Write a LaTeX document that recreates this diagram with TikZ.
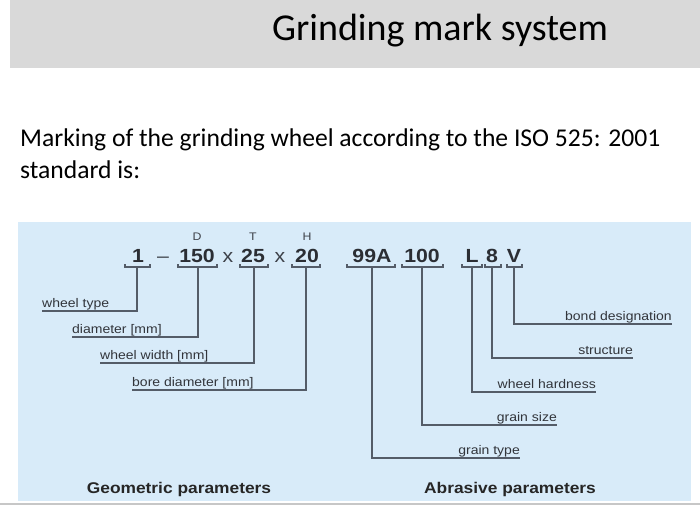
\documentclass[tikz,border=0pt]{standalone}
\usepackage{fontspec}
\setmainfont{Carlito}
\newfontfamily\arialf[FakeStretch=1.12]{Liberation Sans}
\usetikzlibrary{positioning, calc}
\definecolor{hdrgray}{RGB}{217,217,217}
\definecolor{panelblue}{RGB}{216,235,249}
\definecolor{linegray}{RGB}{84,92,104}
\definecolor{txtgray}{RGB}{62,66,74}

\begin{document}
\begin{tikzpicture}[x=1pt, y=-1pt,
    tok/.style={anchor=base, inner sep=0pt, font=\arialf\bfseries\fontsize{19}{22}\selectfont, text=txtgray!70!black},
    opr/.style={anchor=base, inner sep=0pt, font=\arialf\fontsize{19}{22}\selectfont, text=txtgray},
    dim/.style={anchor=base, inner sep=0pt, font=\arialf\fontsize{11}{13}\selectfont, text=txtgray},
    lbl/.style={inner sep=0pt, font=\arialf\fontsize{12.5}{14}\selectfont, text=txtgray!80!black},
    grp/.style={anchor=base, inner sep=0pt, font=\arialf\bfseries\fontsize{15.5}{18}\selectfont, text=black!85},
    brk/.style={line width=1.3pt, color=linegray},
    lead/.style={line width=1.3pt, color=linegray}
]
    \useasboundingbox (0,0) rectangle (700,507);
    \fill[white] (0,0) rectangle (700,507);

    % header
    \fill[hdrgray] (10,0) rectangle (700,68);
    \node[anchor=base, inner sep=0pt, font=\fontsize{38}{44}\selectfont] (title) at (440,40) {Grinding mark system};

    % intro text
    \node[anchor=base west, inner sep=0pt, font=\fontsize{25.6}{30}\selectfont] (intro1) at (20,146)
        {Marking of the grinding wheel according to the ISO 525: 2001};
    \node[anchor=base west, inner sep=0pt, font=\fontsize{25.6}{30}\selectfont] (intro2) at (20,178)
        {standard is:};

    % panel
    \fill[panelblue] (18,222) rectangle (691,501);
    \draw[line width=2pt, black!22] (0,504) -- (700,504);

    % marking
    \node[tok] (t1)   at (138,262) {1};
    \node[opr] (dash) at (163,262) {–};
    \node[tok] (t150) at (197,262) {150};
    \node[opr] (x1)   at (228,262) {x};
    \node[tok] (t25)  at (253,262) {25};
    \node[opr] (x2)   at (280,262) {x};
    \node[tok] (t20)  at (307,262) {20};
    \node[tok] (t99a) at (372,262) {99A};
    \node[tok] (t100) at (422,262) {100};
    \node[tok] (tL)   at (472,262) {L};
    \node[tok] (t8)   at (492,262) {8};
    \node[tok] (tV)   at (514,262) {V};
    \node[dim] (dD) at (197,240) {D};
    \node[dim] (dT) at (253,240) {T};
    \node[dim] (dH) at (307,240) {H};

    % brackets
    \foreach \nm/\xa/\xb/\xm in {a/125/150/137, b/178/217/198, c/240/268/254, d/292/320/306,
                                 e/347/395/372, f/402/443/422, g/462/482/472, h/485/501/492, i/507/522/514} {
        \draw[brk] (\xa,264) -- (\xa,267) -- (\xb,267) -- (\xb,264);
        \coordinate (br-\nm) at (\xm,267);
    }

    % geometric labels
    \node[lbl, anchor=base west] (wtype)  at (42,307)  {wheel type};
    \node[lbl, anchor=base west] (diam)   at (72,333)  {diameter [mm]};
    \node[lbl, anchor=base west] (width)  at (100,359) {wheel width [mm]};
    \node[lbl, anchor=base west] (bore)   at (132,386) {bore diameter [mm]};
    \draw[lead] (br-a) |- ([yshift=-4pt]wtype.base west);
    \draw[lead] (br-b) |- ([yshift=-4pt]diam.base west);
    \draw[lead] (br-c) |- ([yshift=-4pt]width.base west);
    \draw[lead] (br-d) |- ([yshift=-4pt]bore.base west);

    % abrasive labels
    \node[lbl, anchor=base east] (bond)   at (672,320) {bond designation};
    \node[lbl, anchor=base east] (struct) at (633,354) {structure};
    \node[lbl, anchor=base east] (hard)   at (596,388) {wheel hardness};
    \node[lbl, anchor=base east] (gsize)  at (557,421) {grain size};
    \node[lbl, anchor=base east] (gtype)  at (520,454) {grain type};
    \draw[lead] (br-i) |- ([yshift=-4pt]bond.base east);
    \draw[lead] (br-h) |- ([yshift=-4pt]struct.base east);
    \draw[lead] (br-g) |- ([yshift=-4pt]hard.base east);
    \draw[lead] (br-f) |- ([yshift=-4pt]gsize.base east);
    \draw[lead] (br-e) |- ([yshift=-4pt]gtype.base east);

    % groups
    \node[grp] (geo) at (179,493) {Geometric parameters};
    \node[grp] (abr) at (510,493) {Abrasive parameters};
\end{tikzpicture}
\end{document}
